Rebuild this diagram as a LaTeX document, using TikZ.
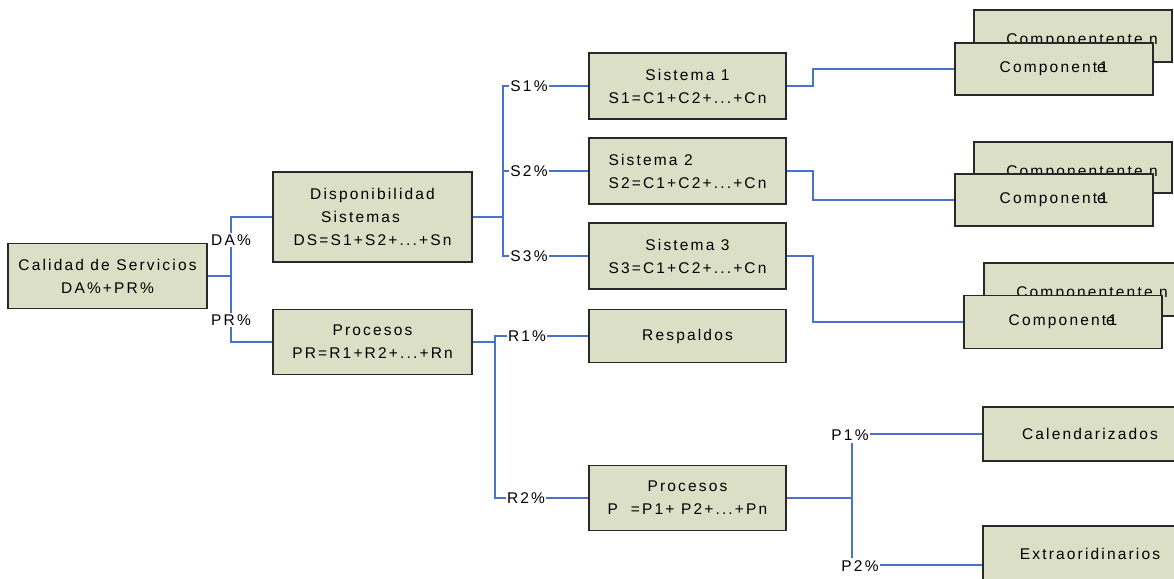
\documentclass[tikz,border=0pt]{standalone}
\usepackage{fontspec}
\setmainfont{Liberation Sans}[LetterSpace=14]
\definecolor{boxfill}{RGB}{218,223,198}
\definecolor{linkblue}{RGB}{72,115,200}
\definecolor{edgecol}{RGB}{40,40,40}
\newcommand\fsz{\fontsize{15.5}{23}\selectfont}
\tikzset{
  box/.style={draw=edgecol, line width=1.8pt, fill=boxfill, minimum width=199pt,
    minimum height=65pt, inner sep=0pt, align=center, font=\fsz},
  link/.style={draw=linkblue, line width=1.4pt},
  pct/.style={fill=white, inner sep=1.5pt, font=\fsz},
  btxt/.style={anchor=base, inner sep=0pt, font=\fsz}
}
\begin{document}
\begin{tikzpicture}[x=1pt,y=-1pt]
\useasboundingbox (0,0) rectangle (1174,578);
\clip (0,0) rectangle (1174,578);

% boxes
\node[box] (cal) at (107.5,276) {Calidad de Servicios\\DA\%+PR\%};
\node[box, minimum height=90pt] (disp) at (372.5,217) {Disponibilidad\\Sistemas\rule{24pt}{0pt}\\DS=S1+S2+...+Sn};
\node[box] (proc) at (372.5,342) {Procesos\\PR=R1+R2+...+Rn};
\node[box, minimum width=197pt, minimum height=66pt] (s1) at (687.5,86) {Sistema 1\\S1=C1+C2+...+Cn};
\node[box, minimum width=197pt, minimum height=66pt, align=left] (s2) at (687.5,171) {Sistema 2\\S2=C1+C2+...+Cn};
\node[box, minimum width=197pt, minimum height=66pt] (s3) at (687.5,256) {Sistema 3\\S3=C1+C2+...+Cn};
\node[box, minimum width=197pt, minimum height=53pt] (resp) at (687.5,336) {Respaldos};
\node[box, minimum width=197pt, minimum height=65pt] (pp) at (687.5,498) {Procesos\\P\ \ =P1+ P2+...+Pn};
\node[box, minimum width=214pt, minimum height=54pt] (cale) at (1090,434) {Calendarizados};
\node[box, minimum width=214pt, minimum height=56pt] (extra) at (1090,554) {Extraoridinarios};

% component stacks
\node[box, minimum width=198pt, minimum height=52pt] (b1) at (1073,36) {};
\node[btxt] (bt1) at (1082,45) {Componentente n};
\node[box, minimum width=198pt, minimum height=52pt] (c1) at (1054,69) {Component\rlap{e}\kern2.5pt 1};
\node[box, minimum width=198pt, minimum height=51pt] (b2) at (1073,167.5) {};
\node[btxt] (bt2) at (1082,176) {Componentente n};
\node[box, minimum width=198pt, minimum height=52pt] (c2) at (1054,200) {Component\rlap{e}\kern2.5pt 1};
\node[box, minimum width=198pt, minimum height=53pt] (b3) at (1083,289.5) {};
\node[btxt] (bt3) at (1092,297) {Componentente n};
\node[box, minimum width=198pt, minimum height=53pt] (c3) at (1063,322) {Component\rlap{e}\kern2.5pt 1};

% connectors
\draw[link] (cal.east) -- ++(23,0) coordinate (j1);
\draw[link] (j1) |- (disp.west);
\draw[link] (j1) |- (proc.west);

\draw[link] (disp.east) -- ++(30,0) coordinate (j2);
\draw[link] (j2) |- (s1.west);
\draw[link] (j2) |- (s2.west);
\draw[link] (j2) |- (s3.west);

\draw[link] (proc.east) -- ++(22,0) coordinate (j3);
\draw[link] (j3) |- (resp.west);
\draw[link] (j3) |- (pp.west);

\draw[link] (pp.east) -- ++(65,0) coordinate (j4);
\draw[link] (j4) |- (cale.west);
\draw[link] (j4) |- ([yshift=-11pt]extra.west);

\draw[link] (s1.east) -- ++(26,0) |- (c1.west);
\draw[link] (s2.east) -- ++(26,0) |- (c2.west);
\draw[link] (s3.east) -- ++(26,0) |- (c3.west);

% percentage labels
\node[pct] (lda) at (231,240) {DA\%};
\node[pct] (lpr) at (231,320) {PR\%};
\node[pct] (ls1) at (529,86) {S1\%};
\node[pct] (ls2) at (529,171) {S2\%};
\node[pct] (ls3) at (529,256) {S3\%};
\node[pct] (lr1) at (527,336) {R1\%};
\node[pct] (lr2) at (526,498) {R2\%};
\node[pct, inner ysep=3pt] (lp1) at (850,435) {P1\%};
\node[pct, inner ysep=3pt] (lp2) at (860,566) {P2\,\%};
\end{tikzpicture}
\end{document}
